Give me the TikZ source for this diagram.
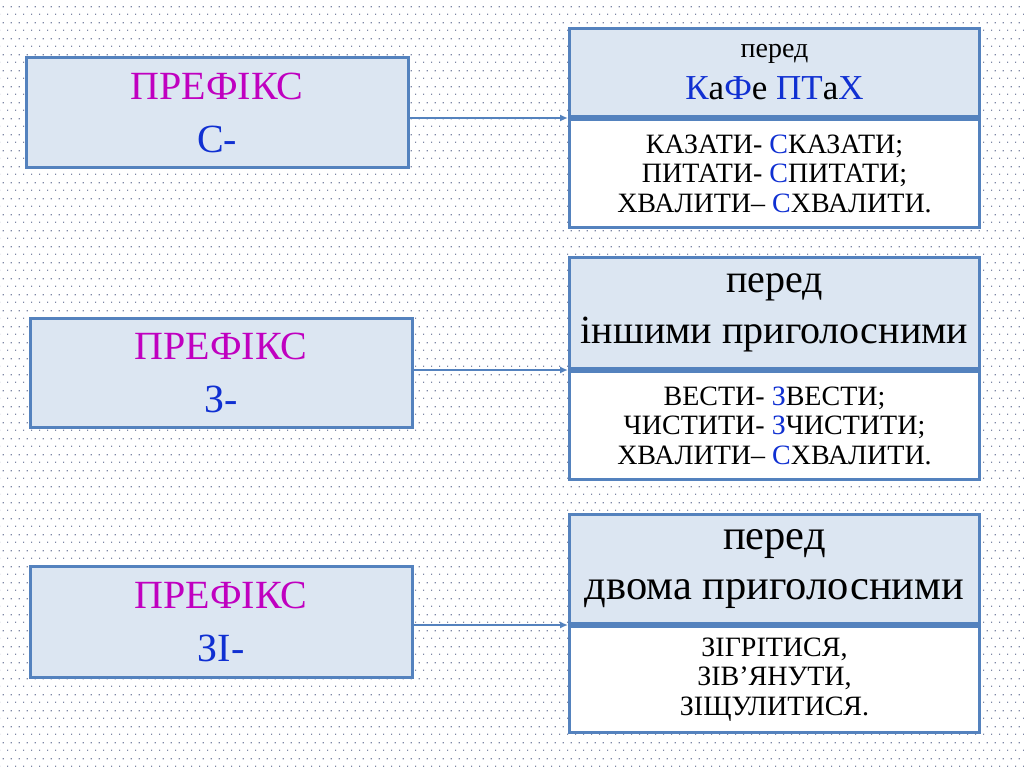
\documentclass[tikz,border=0pt]{standalone}
\usepackage{fontspec}
\setmainfont{Liberation Serif}
\usetikzlibrary{arrows.meta,patterns.meta}
\definecolor{boxline}{RGB}{84,130,190}
\definecolor{boxfill}{RGB}{220,230,242}
\definecolor{magtxt}{RGB}{192,0,192}
\definecolor{bluetxt}{RGB}{16,48,210}
\definecolor{dotc}{RGB}{125,135,165}
\tikzdeclarepattern{
  name=bgdots,
  type=colored,
  bottom left={(0pt,0pt)},
  top right={(8pt,16pt)},
  tile size={(8pt,16pt)},
  code={
    \fill[dotc] (0pt,0pt) rectangle (1.4pt,1.4pt);
    \fill[dotc] (4pt,8pt) rectangle (5.4pt,9.4pt);
  }
}
\tikzset{
  leftbox/.style={draw=boxline, line width=3pt, fill=boxfill, minimum width=382pt,
    align=center, inner sep=0pt, font=\fontsize{40}{53}\selectfont},
  headbox/.style={draw=boxline, line width=3pt, fill=boxfill, minimum width=410pt,
    anchor=north west, align=center, inner sep=0pt},
  bodybox/.style={draw=boxline, line width=3pt, fill=white, minimum width=410pt,
    anchor=north west, align=center, inner sep=0pt, font=\fontsize{28}{29.5}\selectfont},
  conn/.style={draw=boxline, line width=1.6pt, -{Latex[length=8pt,width=7pt]}}
}
\begin{document}
\begin{tikzpicture}[x=1pt,y=-1pt]
\useasboundingbox (0,0) rectangle (1024,767);
\fill[white] (0,0) rectangle (1024,767);
\fill[pattern=bgdots] (0,0) rectangle (1024,767);

% left boxes
\node[leftbox, minimum height=110pt] (l1) at (217,113) {\textcolor{magtxt}{ПРЕФІКС}\\\textcolor{bluetxt}{С-}};
\node[leftbox, minimum height=109pt] (l2) at (221,372.5) {\textcolor{magtxt}{ПРЕФІКС}\\\textcolor{bluetxt}{З-}};
\node[leftbox, minimum height=111pt] (l3) at (221,621.5) {\textcolor{magtxt}{ПРЕФІКС}\\\textcolor{bluetxt}{ЗІ-}};

% right box 1
\node[headbox, minimum height=88pt, font=\fontsize{28}{30}\selectfont] (h1) at (568,27)
  {перед\\[12pt]{\fontsize{35}{42}\selectfont\textcolor{bluetxt}{К}а\textcolor{bluetxt}{Ф}е \textcolor{bluetxt}{ПТ}а\textcolor{bluetxt}{Х}}};
\node[bodybox, minimum height=108pt] (b1) at (h1.south west)
  {КАЗАТИ- \textcolor{bluetxt}{С}КАЗАТИ;\\ПИТАТИ- \textcolor{bluetxt}{С}ПИТАТИ;\\ХВАЛИТИ– \textcolor{bluetxt}{С}ХВАЛИТИ.};

% right box 2
\node[headbox, minimum height=111pt, font=\fontsize{40}{51}\selectfont] (h2) at (568,256)
  {перед\\іншими приголосними};
\node[bodybox, minimum height=108pt] (b2) at (h2.south west)
  {ВЕСТИ- \textcolor{bluetxt}{З}ВЕСТИ;\\ЧИСТИТИ- \textcolor{bluetxt}{З}ЧИСТИТИ;\\ХВАЛИТИ– \textcolor{bluetxt}{С}ХВАЛИТИ.};

% right box 3
\node[headbox, minimum height=109pt, font=\fontsize{42.5}{50}\selectfont] (h3) at (568,513)
  {перед\\двома приголосними};
\node[bodybox, minimum height=106pt] (b3) at (h3.south west)
  {ЗІГРІТИСЯ,\\ЗІВ’ЯНУТИ,\\ЗІЩУЛИТИСЯ.};

% connectors
\draw[conn] (l1.east |- h1.south west) -- (h1.south west);
\draw[conn] (l2.east |- h2.south west) -- (h2.south west);
\draw[conn] (l3.east |- h3.south west) -- (h3.south west);
\end{tikzpicture}
\end{document}
